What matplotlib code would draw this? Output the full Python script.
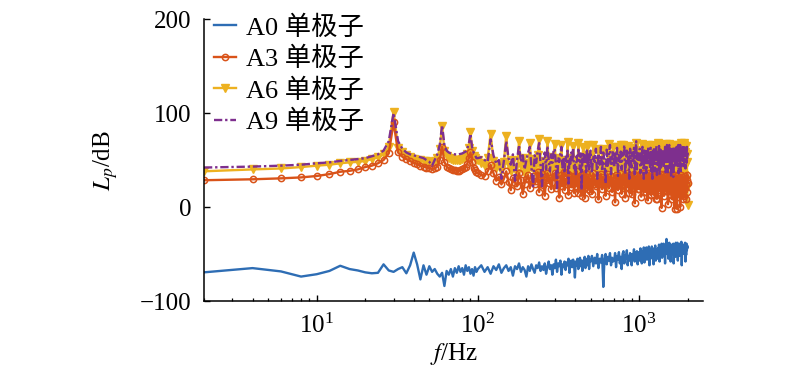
import numpy as np
import matplotlib
matplotlib.use('Agg')
import matplotlib.pyplot as plt
from matplotlib.ticker import LogLocator, NullFormatter, FixedLocator

plt.rcParams['font.family'] = ['Liberation Serif', 'Noto Sans CJK SC']
plt.rcParams['mathtext.fontset'] = 'stix'
plt.rcParams['axes.unicode_minus'] = True

# frequency grid (Hz): 2 Hz below 100, 5 Hz up to 500, 10 Hz above
freq = np.concatenate([np.arange(2, 100, 2), np.arange(100, 500, 5), np.arange(500, 2001, 10)])

labels = ['A0 单极子', 'A3 单极子', 'A6 单极子', 'A9 单极子']

a0 = [
    # 2 - 98 Hz
    -69.5, -65, -68.5, -74, -71.5, -68, -62.5, -66, -67.5, -69.5,
    -70.5, -70, -61, -67.5, -69, -66, -64, -70.5, -62, -48.5,
    -61, -77, -62, -72, -63, -69, -66, -71, -74, -70,
    -84, -68, -72, -66, -74, -65, -70, -63, -69, -65,
    -72, -62, -68, -64, -71, -66, -73, -64, -69,
    # 100 - 495 Hz
    -66, -62, -69, -64, -71, -63, -67, -61, -70, -65,
    -62, -68, -64, -73, -63, -66, -60, -69, -64, -67,
    -74, -63, -68, -61, -66, -70, -62, -65, -59, -68,
    -63, -67, -60, -71, -64, -58, -66, -62, -72, -61,
    -65, -56, -69, -60, -63, -57, -72, -61, -64, -58,
    -67, -59, -62, -55, -70, -60, -57, -64, -56, -61,
    -75, -58, -62, -55, -66, -59, -54, -63, -57, -68,
    -57, -61, -53, -65, -58, -55, -62, -52, -66, -56,
    # 500 - 2000 Hz
    -58, -52, -63, -54, -60, -50, -65, -55, -59, -51,
    -85, -56, -50, -61, -53, -57, -49, -62, -54, -58,
    -57, -49, -64, -52, -56, -48, -60, -53, -66, -50,
    -47, -60, -51, -55, -46, -62, -52, -57, -49, -54,
    -62, -50, -53, -45, -58, -48, -55, -47, -61, -51,
    -48, -57, -44, -52, -60, -47, -54, -43, -59, -49,
    -51, -43, -56, -46, -50, -42, -62, -45, -53, -48,
    -42, -55, -46, -61, -44, -49, -41, -57, -47, -52,
    -55, -44, -48, -40, -58, -43, -51, -46, -39, -54,
    -43, -47, -39, -52, -45, -60, -42, -48, -34, -50,
    -45, -41, -55, -43, -38, -50, -44, -58, -40, -47,
    -50, -42, -46, -39, -60, -44, -48, -41, -53, -38,
    -44, -40, -48, -38, -57, -43, -46, -41, -52, -39,
    -43, -41, -49, -37, -62, -45, -40, -50, -42, -47,
    -44, -40, -47, -38, -58, -42, -51, -39, -46, -41,
    -43,
]

a3 = [
    # 2 - 98 Hz
    28.5, 29.5, 30.5, 31.5, 33, 35, 37.5, 38.5, 40, 42.5,
    44, 46.5, 50, 57, 90, 58, 53.5, 51, 49, 47,
    45.5, 44, 43, 42, 41, 40.5, 41, 43, 50, 64,
    48, 43, 41, 40, 39.5, 39, 38.5, 38.5, 39, 40,
    41, 43, 46, 52, 58, 48, 42, 39, 37,
    # 100 - 495 Hz
    36, 34, 33, 38, 45, 36, 28, 32, 24, 30,
    38, 27, 18, 31, 26, 22, 36, 29, 14, 25,
    30, 34, 20, 28, 33, 24, 28, 37, 16, 30,
    35, 23, 12, 29, 36, 26, 31, 19, 27, 33,
    36, 20, 31, 25, 10, 29, 34, 22, 37, 18,
    30, 24, 35, 13, 28, 32, 21, 33, 26, 15,
    33, 22, 38, 27, 15, 31, 28, 34, 12, 26,
    34, 20, 10, 29, 36, 24, 19, 32, 27, 17,
    # 500 - 2000 Hz
    30, 14, 36, 25, 22, 32, 8, 28, 35, 19,
    32, 25, 12, 30, 35, 20, 27, 33, 16, 29,
    28, 5, 34, 24, 18, 31, 36, 22, 14, 30,
    24, 33, 10, 27, 36, 21, 29, 15, 34, 25,
    14, 31, 26, 35, 4, 28, 22, 33, 19, 30,
    19, 35, 27, 11, 30, 24, 36, 16, 29, 32,
    16, 34, 25, 7, 29, 20, 36, 23, 13, 31,
    20, 36, 27, 13, 32, 25, 18, 34, 9, 28,
    9, 24, 33, 18, 30, 22, 35, 15, -1, 27,
    28, 22, 35, 12, 31, 26, 17, 33, 21, 29,
    30, 3, 21, 34, 17, 27, 32, 13, 25, 35,
    27, 8, 32, 23, 30, 16, -2, 28, 34, 20,
    29, 19, -2, 33, 11, 25, 31, 14, 27, 22,
    0, 30, 20, 34, 14, 26, 32, 9, 28, 23,
    27, 12, 33, 20, 30, 8, 25, 34, 16, 29,
    26,
]

a6 = [
    # 2 - 98 Hz
    38, 40, 41, 42.5, 44, 45, 46.5, 47.5, 48, 49,
    51, 53, 56, 64, 101, 63, 58, 55, 53, 51.5,
    50.5, 49.5, 49, 48.5, 48, 48, 49, 52, 62, 86,
    60, 54, 52, 51, 50.5, 50, 50, 50, 50.5, 51,
    52, 53, 56, 63, 80, 60, 54, 52, 50,
    # 100 - 495 Hz
    50, 47, 44, 52, 78, 49, 42, 46, 39, 48,
    76, 45, 38, 50, 41, 36, 70, 44, 52, 35,
    47, 40, 68, 43, 51, 37, 46, 55, 72, 41,
    34, 49, 44, 38, 70, 48, 31, 53, 42, 47,
    67, 40, 52, 36, 45, 50, 66, 33, 47, 42,
    48, 37, 69, 44, 36, 52, 45, 30, 65, 49,
    33, 50, 43, 38, 68, 46, 29, 53, 40, 47,
    64, 35, 51, 44, 39, 55, 66, 32, 48, 42,
    # 500 - 2000 Hz
    55, 25, 66, 40, 48, 30, 62, 45, 35, 58,
    62, 28, 45, 22, 56, 67, 38, 50, 30, 64,
    50, 42, 24, 64, 35, 55, 48, 66, 28, 52,
    66, 21, 52, 42, 60, 33, 65, 47, 25, 57,
    30, 58, 46, 63, 20, 51, 68, 37, 55, 43,
    37, 61, 55, 26, 67, 48, 33, 59, 22, 50,
    40, 64, 29, 53, 66, 22, 47, 62, 35, 56,
    33, 66, 47, 24, 62, 41, 57, 19, 64, 50,
    44, 68, 28, 51, 63, 36, 58, 21, 66, 45,
    36, 18, 60, 45, 66, 30, 54, 67, 24, 49,
    30, 62, 54, 67, 38, 24, 58, 46, 65, 27,
    62, 38, 20, 65, 43, 57, 27, 66, 47, 35,
    57, 27, 66, 47, 22, 61, 39, 64, 25, 55,
    61, 39, 68, 31, 52, 64, 23, 58, 44, 66,
    68, 34, 18, 59, 44, 65, 29, 56, 48, 21,
    2,
]

a9 = [
    # 2 - 98 Hz
    42, 43, 44, 45, 46.5, 47.5, 49, 50, 51, 52,
    54, 56, 60, 70, 100, 70, 62, 58, 56, 55,
    54, 53, 52, 50, 48, 44, 50, 56, 66, 87,
    66, 60, 58, 57, 56.5, 56, 56, 56, 56.5, 57,
    58, 59, 62, 68, 78, 64, 58, 55, 52,
    # 100 - 495 Hz
    52, 53, 50, 48, 72, 55, 46, 50, 30, 49,
    70, 52, 45, 56, 28, 50, 66, 48, 55, 40,
    50, 58, 64, 42, 22, 55, 47, 60, 68, 45,
    22, 52, 58, 40, 65, 50, 38, 56, 47, 60,
    62, 44, 20, 53, 48, 57, 64, 42, 51, 36,
    55, 48, 60, 25, 52, 46, 58, 50, 63, 41,
    45, 35, 54, 49, 61, 52, 40, 57, 18, 50,
    58, 46, 55, 48, 37, 62, 43, 56, 40, 55,
    # 500 - 2000 Hz
    60, 36, 55, 48, 62, 30, 57, 45, 64, 38,
    58, 50, 25, 61, 44, 56, 66, 35, 52, 60,
    42, 58, 47, 63, 33, 55, 48, 59, 40, 57,
    56, 66, 35, 52, 60, 45, 58, 30, 62, 49,
    42, 58, 47, 63, 33, 55, 70, 40, 57, 48,
    55, 62, 36, 59, 45, 64, 52, 30, 60, 46,
    62, 36, 59, 45, 64, 52, 57, 41, 63, 38,
    52, 30, 60, 46, 63, 38, 57, 50, 65, 34,
    38, 57, 50, 65, 34, 56, 61, 42, 59, 48,
    56, 61, 42, 59, 48, 64, 37, 58, 52, 66,
    64, 37, 58, 52, 66, 40, 57, 62, 32, 60,
    40, 57, 62, 32, 60, 49, 64, 44, 59, 53,
    49, 64, 44, 59, 53, 66, 36, 61, 50, 63,
    66, 36, 61, 50, 63, 45, 60, 55, 65, 41,
    45, 60, 55, 65, 41, 58, 62, 47, 64, 52,
    58,
]

fig = plt.figure(figsize=(8, 3.73), dpi=100)
ax = fig.add_axes([0.255, 0.193, 0.624, 0.756])

lw = 1.7
ax.plot(freq, a0, color='#2E6DB4', lw=lw, label=labels[0], zorder=2.0)
ax.plot(freq, a3, color='#D95319', lw=lw, marker='o', ms=4.5, mfc='none',
        mec='#D95319', mew=1.1, label=labels[1], zorder=2.2)
ax.plot(freq, a6, color='#EDB120', lw=lw, marker='v', ms=6, mec='#EDB120',
        label=labels[2], zorder=2.1)
ax.plot(freq, a9, color='#7E2F8E', lw=lw, ls=(0, (3.5, 1.2, 1, 1.2)), label=labels[3],
        zorder=2.3)

ax.set_xscale('log')
ax.set_xlim(2, 2500)
ax.set_ylim(-100, 200)
ax.set_yticks([-100, 0, 100, 200])
ax.xaxis.set_major_locator(FixedLocator([10, 100, 1000]))
ax.xaxis.set_minor_locator(LogLocator(base=10, subs=np.arange(2, 10)))
ax.xaxis.set_minor_formatter(NullFormatter())

for s in ['top', 'right']:
    ax.spines[s].set_visible(False)
for s in ['left', 'bottom']:
    ax.spines[s].set_linewidth(1.1)

ax.tick_params(which='major', direction='in', length=4.5, width=1.0, labelsize=18, pad=9)
ax.tick_params(which='minor', direction='in', length=2.5, width=0.9)

ax.set_xlabel(r'$f$/Hz', fontsize=18, labelpad=2)
ax.set_ylabel(r'$L_p$/dB', fontsize=18, labelpad=14)

leg = ax.legend(loc='upper left', bbox_to_anchor=(-0.016, 1.079), frameon=False, fontsize=19,
                handlelength=0.8, handletextpad=0.38, labelspacing=0.27, borderaxespad=0.3)

fig.savefig('out.png', dpi=100)
